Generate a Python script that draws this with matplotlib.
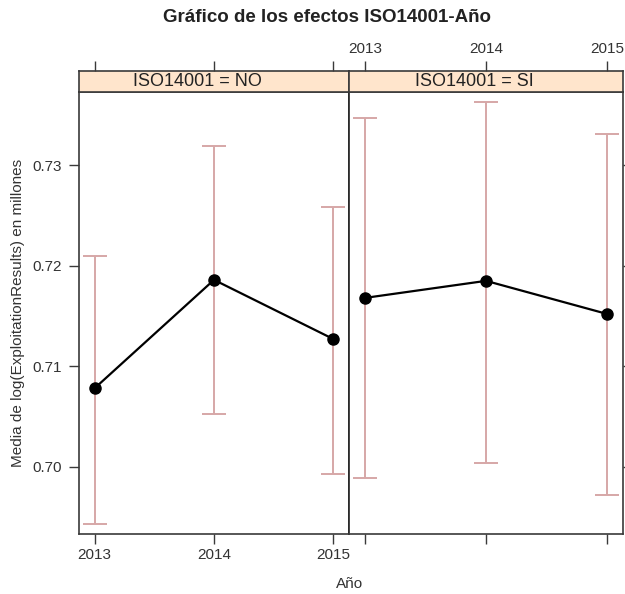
import matplotlib.pyplot as plt

# === Data ===
years = [2013, 2014, 2015]
panel_labels = ["ISO14001 = NO", "ISO14001 = SI"]

mean_no = [0.7078, 0.7186, 0.7127]
lower_no = [0.6943, 0.7052, 0.6993]
upper_no = [0.7210, 0.7319, 0.7259]

mean_si = [0.7168, 0.7185, 0.7152]
lower_si = [0.6989, 0.7004, 0.6972]
upper_si = [0.7347, 0.7363, 0.7331]

yticks = [0.70, 0.71, 0.72, 0.73]

plt.rcParams['font.family'] = ['Liberation Sans', 'DejaVu Sans']

W, H = 625, 594
fig = plt.figure(figsize=(W / 100, H / 100), dpi=100)

frame_col = '#3a3a3a'
text_col = '#333333'
err_col = '#D6A7A7'
strip_col = '#FFE5CC'


def fx(px):
    return px / W


def fy(py):
    return 1 - py / H


panels = [(79, 349), (349, 623)]
strip_text_x = [197, 474]
top, bottom, strip_top = 92, 534, 71
xlim = (2012.87, 2015.13)
ylim = (0.6933, 0.7373)

series = [(mean_no, lower_no, upper_no), (mean_si, lower_si, upper_si)]

for i, ((x0, x1), (m, lo, up)) in enumerate(zip(panels, series)):
    ax = fig.add_axes([fx(x0), fy(bottom), fx(x1 - x0), (bottom - top) / H])
    yerr = [[a - b for a, b in zip(m, lo)], [b - a for a, b in zip(m, up)]]
    ax.errorbar(years, m, yerr=yerr, fmt='none', ecolor=err_col,
                elinewidth=1.4, capsize=8.3, capthick=1.4, zorder=2)
    ax.plot(years, m, color='black', lw=1.6, marker='o', ms=8, zorder=3)
    ax.set_xlim(xlim)
    ax.set_ylim(ylim)
    ax.set_xticks(years)
    ax.set_yticks(yticks)
    for s in ax.spines.values():
        s.set_color(frame_col)
        s.set_linewidth(1.2)
    ax.tick_params(direction='out', length=7, width=1, color=frame_col,
                   labelsize=11, labelcolor=text_col)
    ax.tick_params(axis='x', pad=3)
    ax.tick_params(axis='y', pad=5)
    if i == 0:
        ax.tick_params(axis='y', left=True, right=False, labelleft=True)
        ax.tick_params(axis='x', bottom=True, labelbottom=True)
        ax.set_yticklabels([f'{v:.2f}' for v in yticks])
    else:
        ax.tick_params(axis='y', left=False, right=True, labelleft=False)
        ax.tick_params(axis='x', bottom=True, labelbottom=False)
        ax.spines['left'].set_color('#222222')

    # strip on top of each panel
    sax = fig.add_axes([fx(x0), fy(top), fx(x1 - x0), (top - strip_top) / H])
    sax.set_facecolor(strip_col)
    sax.set_xlim(xlim)
    sax.set_xticks(years)
    sax.set_yticks([])
    sax.tick_params(axis='x', bottom=False, top=True, labelbottom=False,
                    labeltop=(i == 1), direction='out', length=7, width=1,
                    pad=4, color=frame_col, labelsize=11, labelcolor=text_col)
    for s in sax.spines.values():
        s.set_color(frame_col)
        s.set_linewidth(1.2)
    fig.text(fx(strip_text_x[i]), fy(82), panel_labels[i],
             ha='center', va='center', fontsize=13, color='#222222')

fig.text(fx(327), fy(18), 'Gráfico de los efectos ISO14001-Año',
         ha='center', va='center', fontsize=13.5, fontweight='bold', color='#222222')
fig.text(fx(350), fy(584), 'Año', ha='center', va='center',
         fontsize=11, color=text_col)
fig.text(fx(18), fy(313), 'Media de log(ExploitationResults) en millones',
         ha='center', va='center', rotation=90, fontsize=11, color=text_col)

fig.savefig('out.png', dpi=100)
